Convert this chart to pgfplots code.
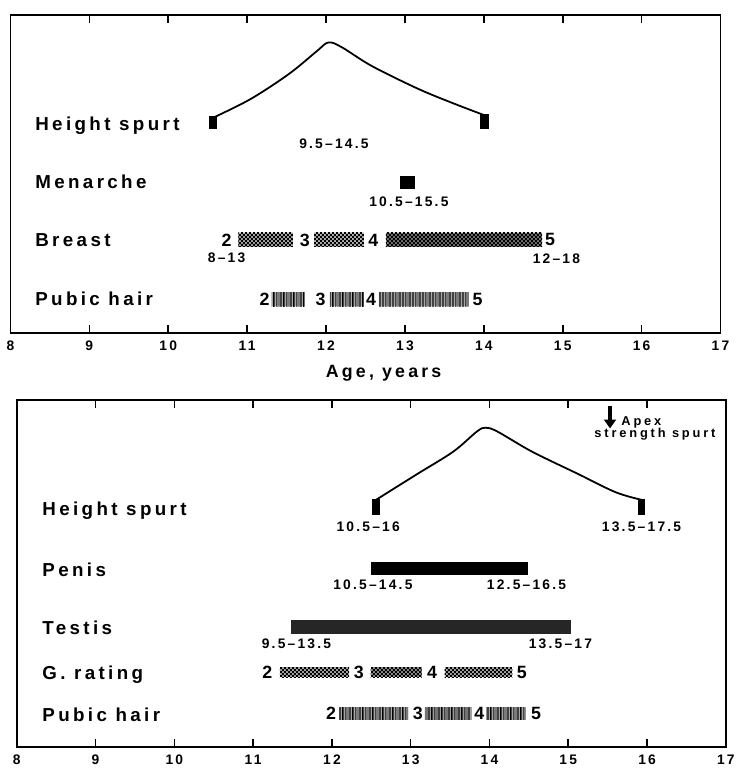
\documentclass[border=0pt]{standalone}
\usepackage{fontspec}
\setmainfont{Liberation Sans}
\newfontfamily\spaced[LetterSpace=18]{Liberation Sans}
\newfontfamily\numspaced[LetterSpace=16]{Liberation Sans}
\newfontfamily\wide[LetterSpace=22]{Liberation Sans}
\usepackage{pgfplots}
\pgfplotsset{compat=1.18}
\usetikzlibrary{patterns.meta, arrows.meta}

% fonts
\newcommand\lab{\spaced\bfseries\fontsize{9.5}{11}\selectfont}
\newcommand\stage{\bfseries\fontsize{9}{10}\selectfont}
\newcommand\rng{\numspaced\bfseries\fontsize{7}{8}\selectfont}
\newcommand\tck{\numspaced\bfseries\fontsize{7}{8}\selectfont}
\newcommand\apexfont{\wide\bfseries\fontsize{6.5}{7.5}\selectfont}

% stippled fill for breast / genital stages
\tikzdeclarepattern{
  name=checks, type=uncolored,
  bounding box={(0,0) and (2pt,2pt)},
  tile size={(2pt,2pt)},
  code={\fill (0,0) rectangle (1pt,1pt); \fill (1pt,1pt) rectangle (2pt,2pt);}
}
% irregular vertical hatching for pubic hair stages
\tikzdeclarepattern{
  name=hair, type=uncolored,
  bounding box={(0,0) and (5pt,1pt)},
  tile size={(5pt,1pt)},
  code={\fill (0.2pt,0) rectangle (0.75pt,1pt);
        \fill (1.3pt,0) rectangle (1.75pt,1pt);
        \fill (2.2pt,0) rectangle (2.85pt,1pt);
        \fill (3.5pt,0) rectangle (3.95pt,1pt);
        \fill (4.3pt,0) rectangle (4.65pt,1pt);}
}

\tikzset{
  rowlabel/.style={anchor=west, inner sep=0pt, font=\lab},
  bar/.style={draw=none, fill=black},
  % a stage band: grey ground with a texture on top
  stipple/.style={draw=none, fill=black!#1},
  texture/.style={draw=none, pattern=#1, pattern color=black},
}

\pgfplotsset{
  panel/.style={
    scale only axis, clip=false,
    xmin=8, xmax=17, ymin=0, ymax=10,
    xtick={8,...,17}, ytick=\empty,
    xtick pos=both, xtick align=inside,
    major tick length=4pt,
    axis line style={line width=0.9pt},
    every tick/.style={line width=0.8pt, black},
    /pgf/number format/assume math mode=true,
    xticklabel style={font=\tck, yshift=-0.5pt},
  },
}

\begin{document}
\begin{tikzpicture}
\path (0,0) rectangle (367.5pt,-385.5pt);

%% ---------------- girls ----------------
\begin{axis}[panel, at={(5pt,-168.5pt)}, anchor=south west,
  width=359.5pt, height=161pt]
  % height spurt
  \addplot[smooth, tension=0.55, line width=0.9pt] coordinates {
    (10.60,6.80) (11.05,7.36) (11.53,8.14) (11.88,8.85) (12.03,9.13)
    (12.20,8.98) (12.58,8.39) (13.17,7.67) (13.63,7.20) (14.00,6.85)};
  \addplot[bar] coordinates {(10.52,6.40) (10.62,6.40) (10.62,6.83) (10.52,6.83)} -- cycle;
  \addplot[bar] coordinates {(13.95,6.40) (14.06,6.40) (14.06,6.87) (13.95,6.87)} -- cycle;
  % menarche
  \addplot[bar] coordinates {(12.94,4.53) (13.13,4.53) (13.13,4.94) (12.94,4.94)} -- cycle;
  % breast stages
  \addplot[stipple=35] coordinates {(10.89,2.70) (11.58,2.70) (11.58,3.14) (10.89,3.14)} -- cycle;
  \addplot[texture=checks] coordinates {(10.89,2.70) (11.58,2.70) (11.58,3.14) (10.89,3.14)} -- cycle;
  \addplot[stipple=30] coordinates {(11.85,2.70) (12.48,2.70) (12.48,3.14) (11.85,3.14)} -- cycle;
  \addplot[texture=checks] coordinates {(11.85,2.70) (12.48,2.70) (12.48,3.14) (11.85,3.14)} -- cycle;
  \addplot[stipple=55] coordinates {(12.76,2.70) (14.74,2.70) (14.74,3.14) (12.76,3.14)} -- cycle;
  \addplot[texture=checks] coordinates {(12.76,2.70) (14.74,2.70) (14.74,3.14) (12.76,3.14)} -- cycle;
  % pubic hair stages
  \addplot[stipple=25] coordinates {(11.31,0.84) (11.73,0.84) (11.73,1.27) (11.31,1.27)} -- cycle;
  \addplot[texture=hair] coordinates {(11.31,0.84) (11.73,0.84) (11.73,1.27) (11.31,1.27)} -- cycle;
  \addplot[stipple=25] coordinates {(12.05,0.84) (12.48,0.84) (12.48,1.27) (12.05,1.27)} -- cycle;
  \addplot[texture=hair] coordinates {(12.05,0.84) (12.48,0.84) (12.48,1.27) (12.05,1.27)} -- cycle;
  \addplot[stipple=25] coordinates {(12.67,0.84) (13.81,0.84) (13.81,1.27) (12.67,1.27)} -- cycle;
  \addplot[texture=hair] coordinates {(12.67,0.84) (13.81,0.84) (13.81,1.27) (12.67,1.27)} -- cycle;

  \node[rowlabel] at (axis cs:8.31,6.52) {Height spurt};
  \node[rowlabel] at (axis cs:8.31,4.75) {Menarche};
  \node[rowlabel] at (axis cs:8.31,2.92) {Breast};
  \node[rowlabel] at (axis cs:8.31,1.06) {Pubic hair};
  \node[font=\rng] at (axis cs:12.10,5.96) {9.5–14.5};
  \node[font=\rng] at (axis cs:13.05,4.13) {10.5–15.5};
  \node[font=\rng] at (axis cs:10.74,2.37) {8–13};
  \node[font=\rng] at (axis cs:14.92,2.33) {12–18};
  \node[font=\stage] at (axis cs:10.74,2.92) {2};
  \node[font=\stage] at (axis cs:11.73,2.92) {3};
  \node[font=\stage] at (axis cs:12.60,2.92) {4};
  \node[font=\stage] at (axis cs:14.84,2.92) {5};
  \node[font=\stage] at (axis cs:11.22,1.06) {2};
  \node[font=\stage] at (axis cs:11.93,1.06) {3};
  \node[font=\stage] at (axis cs:12.57,1.06) {4};
  \node[font=\stage] at (axis cs:13.92,1.06) {5};
  \node[font=\spaced\bfseries\fontsize{9}{10}\selectfont] at (axis cs:12.73,-1.27) {Age, years};
\end{axis}

%% ---------------- boys ----------------
\begin{axis}[panel, at={(8.2pt,-378pt)}, anchor=south west,
  width=359pt, height=175.5pt]
  % apex strength spurt
  \addplot[-{Triangle[width=6pt,length=4.5pt]}, line width=2.2pt]
    coordinates {(15.53,9.82) (15.53,9.18)};
  \node[anchor=west, inner sep=0pt, font=\apexfont] at (axis cs:15.67,9.34) {Apex};
  \node[inner sep=0pt, font=\apexfont] at (axis cs:16.10,9.00) {strength spurt};
  % height spurt
  \addplot[smooth, tension=0.55, line width=0.9pt] coordinates {
    (12.56,7.12) (13.08,7.86) (13.54,8.51) (13.84,9.09) (13.95,9.20)
    (14.10,9.09) (14.54,8.51) (15.13,7.86) (15.60,7.34) (15.93,7.12)};
  \addplot[bar] coordinates {(12.51,6.69) (12.61,6.69) (12.61,7.14) (12.51,7.14)} -- cycle;
  \addplot[bar] coordinates {(15.88,6.69) (15.98,6.69) (15.98,7.14) (15.88,7.14)} -- cycle;
  % penis
  \addplot[bar] coordinates {(12.49,4.94) (14.49,4.94) (14.49,5.34) (12.49,5.34)} -- cycle;
  % testis
  \addplot[draw=none, fill=black!85] coordinates {(11.48,3.26) (15.04,3.26) (15.04,3.66) (11.48,3.66)} -- cycle;
  % genital stages
  \addplot[stipple=35] coordinates {(11.34,2.00) (12.22,2.00) (12.22,2.29) (11.34,2.29)} -- cycle;
  \addplot[texture=checks] coordinates {(11.34,2.00) (12.22,2.00) (12.22,2.29) (11.34,2.29)} -- cycle;
  \addplot[stipple=45] coordinates {(12.49,2.00) (13.14,2.00) (13.14,2.29) (12.49,2.29)} -- cycle;
  \addplot[texture=checks] coordinates {(12.49,2.00) (13.14,2.00) (13.14,2.29) (12.49,2.29)} -- cycle;
  \addplot[stipple=35] coordinates {(13.43,2.00) (14.29,2.00) (14.29,2.29) (13.43,2.29)} -- cycle;
  \addplot[texture=checks] coordinates {(13.43,2.00) (14.29,2.00) (14.29,2.29) (13.43,2.29)} -- cycle;
  % pubic hair stages
  \addplot[stipple=25] coordinates {(12.09,0.77) (12.97,0.77) (12.97,1.14) (12.09,1.14)} -- cycle;
  \addplot[texture=hair] coordinates {(12.09,0.77) (12.97,0.77) (12.97,1.14) (12.09,1.14)} -- cycle;
  \addplot[stipple=30] coordinates {(13.18,0.77) (13.77,0.77) (13.77,1.14) (13.18,1.14)} -- cycle;
  \addplot[texture=hair] coordinates {(13.18,0.77) (13.77,0.77) (13.77,1.14) (13.18,1.14)} -- cycle;
  \addplot[stipple=25] coordinates {(13.96,0.77) (14.46,0.77) (14.46,1.14) (13.96,1.14)} -- cycle;
  \addplot[texture=hair] coordinates {(13.96,0.77) (14.46,0.77) (14.46,1.14) (13.96,1.14)} -- cycle;

  \node[rowlabel] at (axis cs:8.32,6.80) {Height spurt};
  \node[rowlabel] at (axis cs:8.32,5.11) {Penis};
  \node[rowlabel] at (axis cs:8.32,3.43) {Testis};
  \node[rowlabel] at (axis cs:8.32,2.09) {G. rating};
  \node[rowlabel] at (axis cs:8.32,0.91) {Pubic hair};
  \node[font=\rng] at (axis cs:12.46,6.34) {10.5–16};
  \node[font=\rng] at (axis cs:15.93,6.34) {13.5–17.5};
  \node[font=\rng] at (axis cs:12.52,4.66) {10.5–14.5};
  \node[font=\rng] at (axis cs:14.47,4.66) {12.5–16.5};
  \node[font=\rng] at (axis cs:11.55,2.97) {9.5–13.5};
  \node[font=\rng] at (axis cs:14.90,2.97) {13.5–17};
  \node[font=\stage] at (axis cs:11.18,2.14) {2};
  \node[font=\stage] at (axis cs:12.34,2.14) {3};
  \node[font=\stage] at (axis cs:13.27,2.14) {4};
  \node[font=\stage] at (axis cs:14.41,2.14) {5};
  \node[font=\stage] at (axis cs:11.99,0.97) {2};
  \node[font=\stage] at (axis cs:13.09,0.97) {3};
  \node[font=\stage] at (axis cs:13.87,0.97) {4};
  \node[font=\stage] at (axis cs:14.59,0.97) {5};
\end{axis}
\end{tikzpicture}
\end{document}
